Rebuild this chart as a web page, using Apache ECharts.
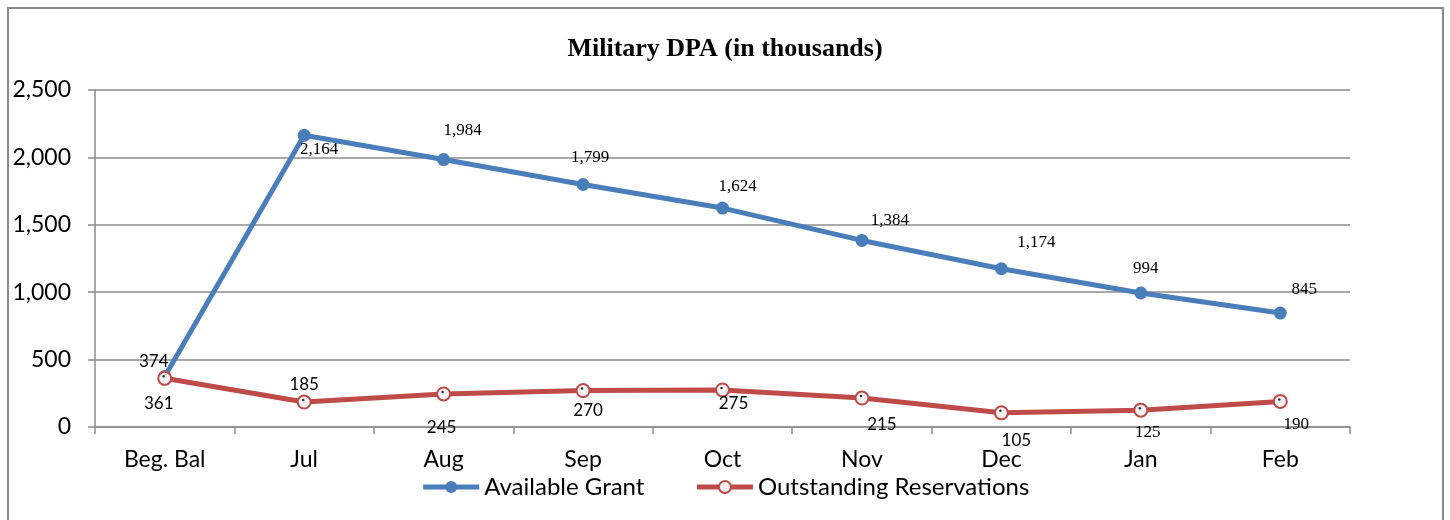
<!DOCTYPE html>
<html>
<head>
<meta charset="utf-8">
<script src="https://cdn.jsdelivr.net/npm/echarts@6/dist/echarts.min.js"></script>
<style>
  html, body { margin: 0; padding: 0; background: #fff; }
  #chart { width: 1450px; height: 520px; }
</style>
</head>
<body>
<div id="chart"></div>
<script>
const categories = ['Beg. Bal', 'Jul', 'Aug', 'Sep', 'Oct', 'Nov', 'Dec', 'Jan', 'Feb']
const availableGrant = [374, 2164, 1984, 1799, 1624, 1384, 1174, 994, 845]
const outstandingReservations = [361, 185, 245, 270, 275, 215, 105, 125, 190]
const yTicks = [0, 500, 1000, 1500, 2000, 2500]

// label placement, like the original hand-dragged labels
const grantLabelOffsets = [[-11, -15], [15, 14], [19, -29], [7, -27], [15, -22], [28, -20], [35, -26], [5, -24], [24, -24]]
const grantLabelFonts = ['Lato', 'serif', 'serif', 'serif', 'serif', 'serif', 'serif', 'serif', 'serif']
const resLabelOffsets = [[-6, 25], [0, -18], [-2, 34], [5, 20], [11, 14], [20, 26], [15, 28], [7, 22], [16, 23]]
const resLabelFonts = ['Lato', 'Lato', 'Lato', 'Lato', 'Lato', 'Lato', 'Lato', 'serif', 'serif']

const fontMap = { serif: 'Liberation Serif', Lato: 'Lato' }
const fmt = v => v.toLocaleString('en-US')

const withLabels = (vals, offsets, fonts) => vals.map((v, i) => ({
    value: v,
    label: {
        offset: offsets[i],
        fontFamily: fontMap[fonts[i]],
        fontSize: 17
    }
}))

const blue = '#4a7ebb'
const red = '#be4b48'
const gray = '#8c8c8c'

let Mycharts = echarts.init(document.getElementById('chart'))
let option = {
    animation: false,
    title: {
        text: 'Military DPA (in thousands)',
        left: 'center',
        top: 31,
        textStyle: {
            fontFamily: 'Liberation Serif',
            fontWeight: 'bold',
            fontSize: 26,
            color: '#000'
        }
    },
    graphic: [{
        type: 'rect',
        shape: { x: 8, y: 8, width: 1435, height: 530 },
        style: { fill: 'none', stroke: '#8a8a8a', lineWidth: 2 },
        silent: true
    }],
    grid: {
        left: 95,
        right: 100,
        top: 90,
        bottom: 93
    },
    legend: {
        bottom: 16,
        left: 'center',
        itemWidth: 56,
        itemHeight: 15,
        itemGap: 50,
        data: ['Available Grant', 'Outstanding Reservations'],
        lineStyle: { width: 5 },
        textStyle: {
            fontFamily: 'Lato',
            fontSize: 24,
            color: '#000'
        }
    },
    xAxis: {
        type: 'category',
        data: categories,
        boundaryGap: true,
        axisLine: { show: true, lineStyle: { color: gray, width: 1.5 } },
        axisTick: { show: true, length: 7, interval: 0, lineStyle: { color: gray, width: 1.5 } },
        axisLabel: {
            interval: 0,
            margin: 21,
            fontFamily: 'Lato',
            fontSize: 23,
            color: '#000'
        },
        splitLine: { show: false }
    },
    yAxis: {
        type: 'value',
        min: yTicks[0],
        max: yTicks[yTicks.length - 1],
        interval: yTicks[1] - yTicks[0],
        axisLine: { show: true, lineStyle: { color: gray, width: 1.5 } },
        axisTick: { show: true, length: 7, lineStyle: { color: gray, width: 1.5 } },
        axisLabel: {
            margin: 24,
            fontFamily: 'Lato',
            fontSize: 23,
            color: '#000',
            formatter: v => fmt(v)
        },
        splitLine: { show: true, lineStyle: { color: gray, width: 1.5 } }
    },
    series: [{
        name: 'Available Grant',
        type: 'line',
        data: withLabels(availableGrant, grantLabelOffsets, grantLabelFonts),
        symbol: 'circle',
        symbolSize: 13,
        lineStyle: { color: blue, width: 5 },
        itemStyle: { color: blue },
        label: {
            show: true,
            position: 'inside',
            color: '#000',
            formatter: p => fmt(p.value)
        },
        z: 3
    }, {
        name: 'Outstanding Reservations',
        type: 'line',
        data: withLabels(outstandingReservations, resLabelOffsets, resLabelFonts),
        symbol: 'circle',
        symbolSize: 13,
        lineStyle: { color: red, width: 5 },
        itemStyle: { color: '#f2f2f2', borderColor: red, borderWidth: 2 },
        label: {
            show: true,
            position: 'inside',
            color: '#000',
            formatter: p => fmt(p.value)
        },
        z: 4
    }, {
        // little black dot in the centre of each hollow marker
        name: 'dots',
        type: 'scatter',
        data: outstandingReservations,
        symbol: 'circle',
        symbolSize: 2.5,
        symbolOffset: [-1, -2],
        itemStyle: { color: '#000' },
        silent: true,
        z: 5
    }]
}
Mycharts.setOption(option)
</script>
</body>
</html>
